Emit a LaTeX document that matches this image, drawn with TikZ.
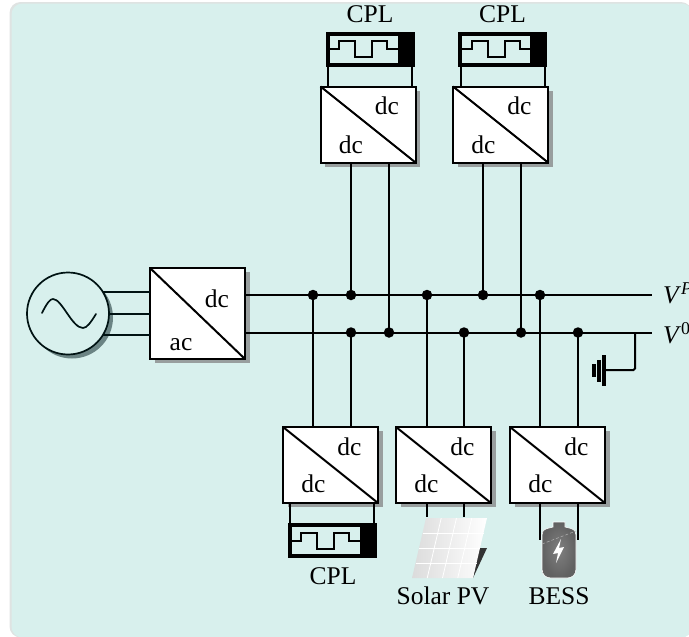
\documentclass[tikz,border=0pt]{standalone}
\usepackage{fontspec}
\setmainfont{Liberation Serif}
\usetikzlibrary{shadows,calc}
\definecolor{panel}{HTML}{D8F0ED}
\definecolor{paneledge}{HTML}{DFE3E2}
\definecolor{shadowgray}{HTML}{989E9E}
\definecolor{ink}{HTML}{000000}
\tikzset{
  wire/.style={line width=2pt,draw=ink},
  thinwire/.style={line width=2pt,draw=black!85!teal},
  conv/.style={draw=ink,fill=white,line width=2pt,inner sep=0pt,outer sep=0pt,
    drop shadow={shadow xshift=4.6pt,shadow yshift=-4.2pt,fill=shadowgray,opacity=1}},
  txt/.style={inner sep=0pt,outer sep=0pt,anchor=base,font=\fontsize{25.5}{28}\selectfont},
  dot/.style={circle,fill=ink,inner sep=0pt,minimum size=10.5pt},
  cplbox/.style={draw=ink,line width=4pt,minimum width=85pt,minimum height=31pt,inner sep=0pt,outer sep=0pt},
}
\newcommand{\converter}[6]{%
  \node[conv,minimum width=95pt,minimum height=#4pt] (#1) at (#2,#3) {};
  \draw[wire] (#1.north west) -- (#1.south east);
  \node[txt] (#1u) at ($(#1.center)+(19,#5)$) {dc};
  \node[txt] (#1l) at ($(#1.center)+(-17,#6)$) {dc};
}
\newcommand{\cplload}[3]{%
  \node[cplbox] (#1) at (#2,#3) {};
  \fill[ink] ($(#1.north east)+(-15,0)$) rectangle (#1.south east);
  \draw[line width=2pt,draw=ink,line join=miter] ($(#1.center)+(-41,0)$) -- ++(10,0) -- ++(0,-8) -- ++(16,0) -- ++(0,16) -- ++(17,0) -- ++(0,-16) -- ++(15,0) -- ++(0,8) -- ++(12,0);
}
\begin{document}
\begin{tikzpicture}[x=1pt,y=-1pt]
\useasboundingbox (0,0) rectangle (689,637);
% panel
\fill[paneledge,rounded corners=11pt] (9.5,2) rectangle (692,637.5);
\fill[panel,rounded corners=11pt] (11.5,3.5) rectangle (692.5,637.5);

% junctions
\coordinate (vpa) at (313,295);
\coordinate (vpb) at (351,295);
\coordinate (vpc) at (427,295);
\coordinate (vpd) at (483,295);
\coordinate (vpe) at (540,295);
\coordinate (vza) at (351,332.5);
\coordinate (vzb) at (389,332.5);
\coordinate (vzc) at (464,332.5);
\coordinate (vzd) at (521,332.5);
\coordinate (vze) at (578,332.5);
\coordinate (vpend) at (652,295);
\coordinate (vzend) at (652,332.5);
\coordinate (gbend) at (635,370);
\coordinate (gnd) at (605,370);

% AC source
\node[circle,draw=black!85!teal,line width=1.7pt,minimum size=82pt,inner sep=0pt,outer sep=0pt,fill=panel,
  drop shadow={shadow xshift=4pt,shadow yshift=-4pt,fill=black!35!teal!30!gray,opacity=.85}] (src) at (68,313.5) {};
\draw[line width=1.7pt,draw=black!85!teal,line cap=round] (42,313) .. controls (47,303) and (50,299) .. (53,299) .. controls (62,299) and (72,328) .. (83,328) .. controls (87,328) and (91,322) .. (96,314);

% AC/DC converter
\node[conv,minimum width=95pt,minimum height=91pt] (ac) at (197.5,313.5) {};
\draw[wire] (ac.north west) -- (ac.south east);
\node[txt] (acu) at (217,307) {dc};
\node[txt] (acl) at (181,350) {ac};
\draw[thinwire] (src.32.5) -- (src.32.5 -| ac.west);
\draw[thinwire] (src.east) -- (ac.west);
\draw[thinwire] (src.-32.5) -- (src.-32.5 -| ac.west);

% converters
\converter{ta}{368}{124.5}{76}{-10}{29}
\converter{tb}{500.5}{124.5}{76}{-10}{29}
\converter{ba}{330.5}{465}{76}{-10}{27}
\converter{bb}{443.5}{465}{76}{-10}{27}
\converter{bc}{557.5}{465}{76}{-10}{27}

% buses
\draw[wire] (ac.east |- vpend) -- (vpend);
\draw[wire] (ac.east |- vzend) -- (vzend);
\node[txt,anchor=base west] (vp) at (663,303) {\textit{V}\raisebox{9pt}{\fontsize{18}{20}\selectfont\textit{P}}};
\node[txt,anchor=base west] (vz) at (663,343) {\textit{V}\raisebox{9pt}{\fontsize{18}{20}\selectfont 0}};

% bus connectors
\draw[wire] (vpb) -- (vpb |- ta.south);
\draw[wire] (vzb) -- (vzb |- ta.south);
\draw[wire] (vpd) -- (vpd |- tb.south);
\draw[wire] (vzd) -- (vzd |- tb.south);
\draw[wire] (vpa) -- (vpa |- ba.north);
\draw[wire] (vza) -- (vza |- ba.north);
\draw[wire] (vpc) -- (vpc |- bb.north);
\draw[wire] (vzc) -- (vzc |- bb.north);
\draw[wire] (vpe) -- (vpe |- bc.north);
\draw[wire] (vze) -- (vze |- bc.north);

\foreach \j in {vpa,vpb,vpc,vpd,vpe,vza,vzb,vzc,vzd,vze} \node[dot] (d\j) at (\j) {};

% ground
\draw[wire,rounded corners=1.5pt] (vzend -| gbend) -- (gbend) -- (gnd);
\fill[ink] (601.5,355) rectangle (605.5,386);
\fill[ink] (596.5,360) rectangle (600.5,382);
\fill[ink] (592,364) rectangle (595.5,377);

% CPL loads
\cplload{ca}{370}{49}
\cplload{cb}{502.5}{49}
\cplload{cc}{332}{540.5}
\node[txt] (cat) at (370,22) {CPL};
\node[txt] (cbt) at (502.5,22) {CPL};
\node[txt] (cct) at (333,584) {CPL};
\draw[wire] ($(ca.south)+(-42,0)$) -- ($(ta.north)+(-40,0)$);
\draw[wire] ($(ca.south)+(42,0)$) -- ($(ta.north)+(44,0)$);
\draw[wire] ($(cb.south)+(-42,0)$) -- ($(tb.north)+(-40,0)$);
\draw[wire] ($(cb.south)+(42,0)$) -- ($(tb.north)+(44,0)$);
\draw[wire] ($(ba.south)+(-40.5,0)$) -- ($(cc.north)+(-42,0)$);
\draw[wire] ($(ba.south)+(43.5,0)$) -- ($(cc.north)+(42,0)$);

% Solar PV
\fill[black!80] (479,548) -- (487,548) -- (473,578) -- cycle;
\path[left color=black!14,right color=white] (426,518) -- (487,518) -- (473,578) -- (412,578) -- cycle;
\foreach \i in {1,2,3} \draw[white,line width=0.8pt] ({426+15.25*\i},518) -- ({412+15.25*\i},578);
\foreach \k in {1,2,3} \draw[white,line width=0.8pt] ({426-3.5*\k},{518+15*\k}) -- ({487-3.5*\k},{518+15*\k});
\draw[wire] (bb.south -| vpc) -- (427,517);
\draw[wire] (bb.south -| vzc) -- (464,517);
\node[txt] (pvt) at (443,604) {Solar PV};

% BESS
\draw[wire] (bc.south -| vpe) -- (540,540);
\draw[wire] (bc.south -| vze) -- (578,540);
\path[draw=white,line width=0.6pt,inner color=black!50,outer color=black!62]
  (553,527) -- (553,522) -- (565,522) -- (565,527) -- (571,528.5)
  .. controls (575,530) and (576,532) .. (576,535) -- (576,569)
  .. controls (576,575) and (572,578) .. (567,578) -- (551,578)
  .. controls (546,578) and (542,575) .. (542,569) -- (542,535)
  .. controls (542,532) and (543,530) .. (547,528.5) -- cycle;
\draw[black!30,line width=0.5pt,densely dashed] (542,544) -- (576,531);
\fill[white] (561,539) -- (553,554) -- (558,553) -- (556,563) -- (564,547) -- (559,548) -- cycle;
\node[txt] (bet) at (559,604) {BESS};
\end{tikzpicture}
\end{document}
